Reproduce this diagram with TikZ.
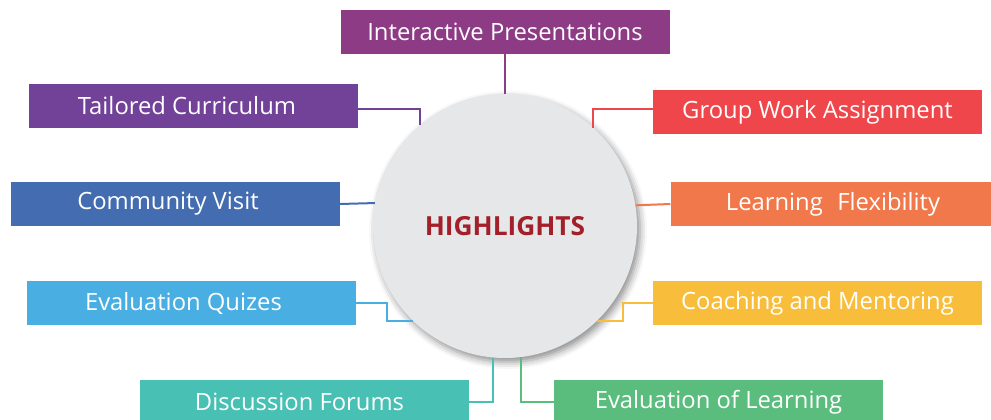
\documentclass[tikz,border=0pt]{standalone}
\usepackage{fontspec}
\setmainfont{Open Sans}
\usetikzlibrary{shadows.blur}
\definecolor{cIP}{HTML}{8E3B86}
\definecolor{cTC}{HTML}{724298}
\definecolor{cCV}{HTML}{446DB1}
\definecolor{cEQ}{HTML}{49AEE1}
\definecolor{cDF}{HTML}{48C0B4}
\definecolor{cEL}{HTML}{5ABD7D}
\definecolor{cCM}{HTML}{F8BD3A}
\definecolor{cLF}{HTML}{F1784A}
\definecolor{cGW}{HTML}{EF464B}
\definecolor{hubfill}{HTML}{E6E7E8}
\definecolor{hubtext}{HTML}{A3202A}
\tikzset{
  tagbox/.style={fill=#1, text=white, minimum width=329pt, minimum height=44pt,
    inner sep=0pt, font=\fontsize{23.8}{27}\selectfont},
  link/.style={draw=#1, line width=2pt},
}
\begin{document}
\begin{tikzpicture}[x=1pt,y=-1pt]
\useasboundingbox (0,0) rectangle (991,420);
\clip (0,0) rectangle (991,420);
\node[circle, fill=hubfill, minimum size=264pt, inner sep=0pt,
  blur shadow={shadow xshift=3pt, shadow yshift=-4pt, shadow blur radius=7pt, shadow opacity=45},
  text=hubtext, font=\bfseries\fontsize{26.3}{30}\selectfont] (hub) at (505,226) {HIGHLIGHTS};

\node[tagbox=cIP] (ip) at (505,32) {Interactive Presentations};
\node[tagbox=cTC] (tc) at (193.5,106) {Tailored Curriculum\hspace*{13pt}};
\node[tagbox=cCV] (cv) at (175,204) {Community Visit\hspace*{14pt}};
\node[tagbox=cEQ] (eq) at (191.5,303) {Evaluation Quizes\hspace*{16pt}};
\node[tagbox=cDF] (df) at (304,402) {Discussion Forums\hspace*{9pt}};
\node[tagbox=cEL] (el) at (718.5,402) {Evaluation of Learning};
\node[tagbox=cCM] (cm) at (817.5,303) {Coaching and Mentoring};
\node[tagbox=cLF] (lf) at (835,204) {Learning\hspace{0.35em} Flexibility\hspace*{4pt}};
\node[tagbox=cGW] (gw) at (817.5,112) {Group Work Assignment};

\draw[link=cIP] (ip.south) -- (hub.north);
\draw[link=cTC] ([yshift=-3pt]tc.east) -| (hub.130.7);
\draw[link=cCV] (cv.east) -- (hub.170.4);
\draw[link=cEQ] (eq.east) -- ++(31,0) |- (hub.226);
\draw[link=cDF] (hub.265.7) |- (df.east);
\draw[link=cEL] (hub.277.8) |- (el.west);
\draw[link=cCM] (hub.314) -- ++(26,0) |- (cm.west);
\draw[link=cLF] (hub.9.6) -- (lf.west);
\draw[link=cGW] ([yshift=3pt]gw.west) -| (hub.48.8);
\end{tikzpicture}
\end{document}
